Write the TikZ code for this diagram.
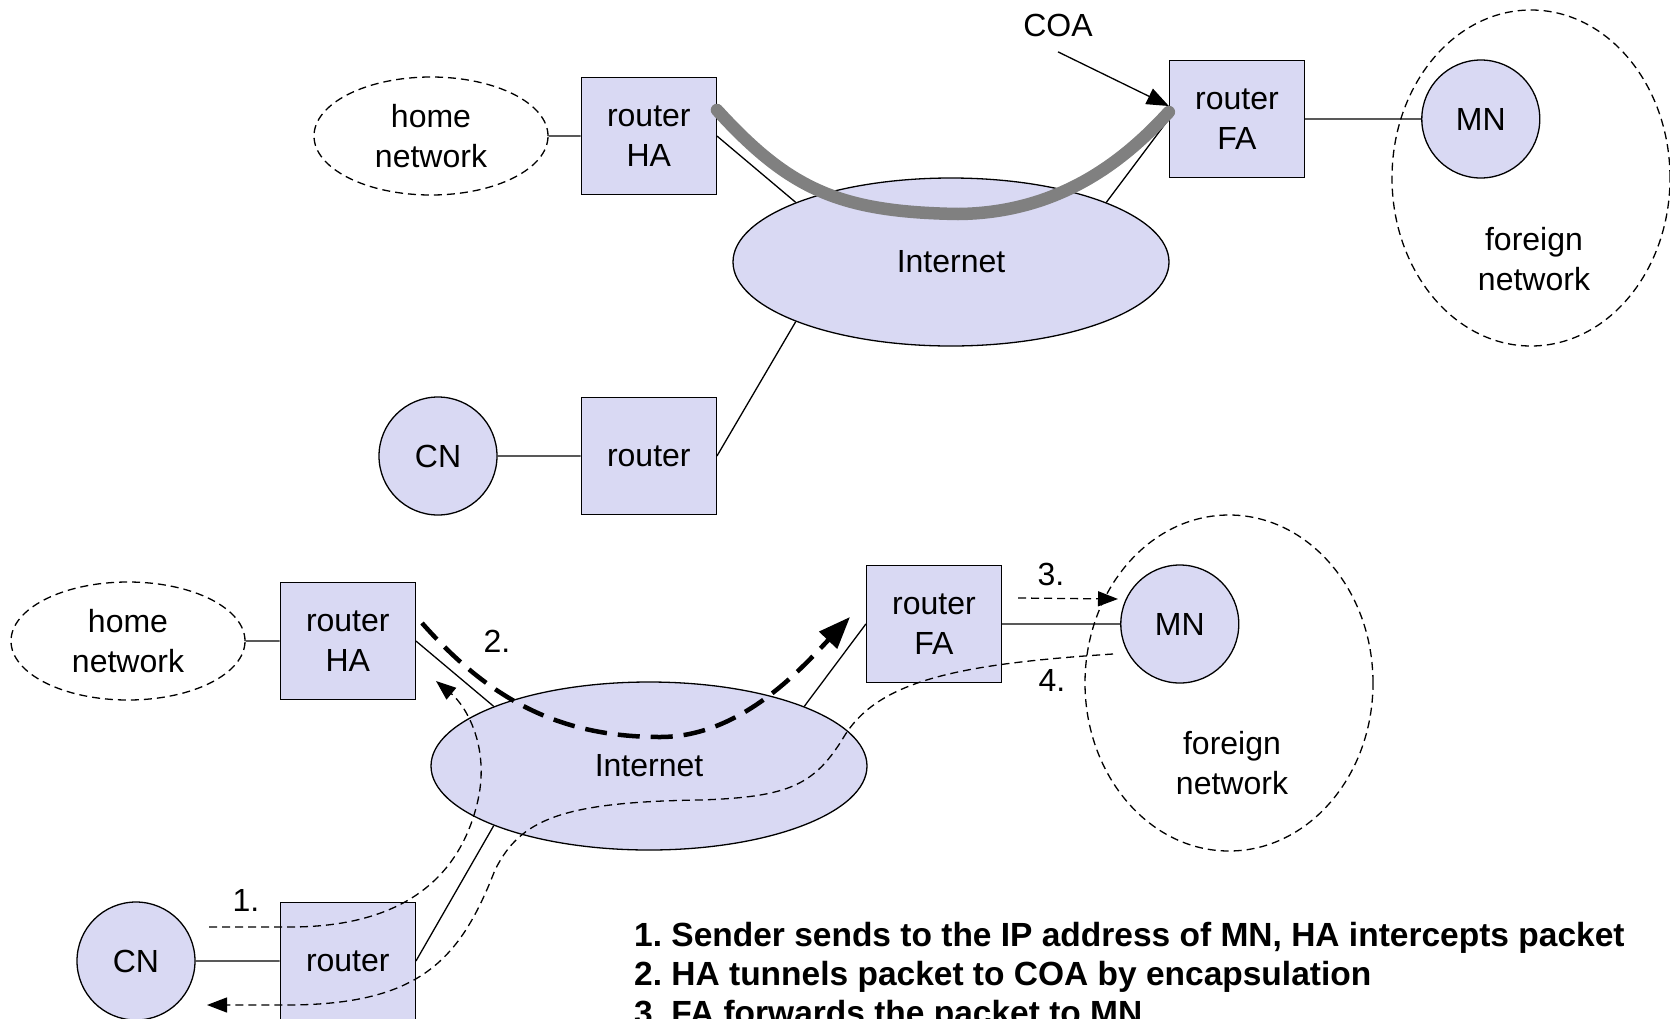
\documentclass[tikz,border=0pt]{standalone}
\usepackage{fontspec}
\setmainfont{Liberation Sans}
\usepackage{tikz}
\usetikzlibrary{shapes.geometric}
\usetikzlibrary{arrows.meta}
\usetikzlibrary{positioning}
\definecolor{netfill}{RGB}{217,217,243}
\definecolor{tunnelgray}{RGB}{128,128,128}
\frenchspacing
\newcommand{\netfont}{\fontsize{32}{40}\selectfont}
\newcommand{\notefont}{\fontsize{33.5}{40}\selectfont\bfseries}
\tikzset{
    rbox/.style={
           rectangle,
           draw=black, line width=1.3pt,
           fill=netfill,
           minimum width=135pt, minimum height=117pt,
           align=center,
           },
    host/.style={
           circle,
           draw=black, line width=1.3pt,
           fill=netfill,
           minimum size=118pt, inner sep=0pt,
           },
    cloud/.style={
           ellipse,
           draw=black, line width=1.3pt,
           fill=netfill,
           minimum width=436pt, minimum height=168pt,
           },
    subnet/.style={
           ellipse,
           draw=black, line width=1.3pt,
           dash pattern=on 8pt off 5pt,
           minimum width=234pt, minimum height=118pt,
           align=center,
           },
    link/.style={draw=black, line width=1.3pt},
    flow/.style={line width=1.3pt, dash pattern=on 8pt off 5pt,
           -{Triangle[length=20pt,width=15pt]}},
    bigflow/.style={line width=4.5pt, dash pattern=on 22pt off 11pt,
           -{Triangle[length=32pt,width=24pt]}},
    tunnel/.style={draw=tunnelgray, line width=12.5pt, line cap=round},
    pointer/.style={line width=1.3pt, -{Triangle[length=22pt,width=17pt]}},
    note/.style={anchor=west, inner sep=0pt, font=\notefont},
}
\begin{document}
\begin{tikzpicture}[x=1pt,y=-1pt,font=\netfont]
      \useasboundingbox (0,0) rectangle (1670,1018);
      % upper half
      \node[subnet] (homeT) at (431,136) {home\\network};
      \node[rbox] (haT) [right=32pt of homeT] {router\\HA};
      \node[cloud] (inetT) at (951,262) {Internet};
      \node[rbox] (faT) at (1237,119) {router\\FA};
      \node[subnet, minimum width=278pt, minimum height=336pt] (fnT) at (1531,178) {};
      \node[host] (mnT) [right=116pt of faT] {MN};
      \node[align=center] (fnTtext) at (1534,259) {foreign\\network};
      \node[host] (cnT) at (438,456) {CN};
      \node[rbox] (rtT) [right=83pt of cnT] {router};
      \node (coa) at (1058,25) {COA};
      \path[link]
      (homeT) -- (haT)
      (haT.east) -- (inetT.159)
      (faT.west) -- (inetT.21)
      (faT) -- (mnT)
      (cnT) -- (rtT)
      (rtT.east) -- (inetT.201);
      \draw[tunnel] ([yshift=26pt]haT.east) .. controls (790,190) and (840,212) .. (958,214)
            .. controls (1060,213) and (1125,160) .. ([yshift=7pt]faT.west);
      \draw[pointer] ([yshift=-12pt]coa.south) -- ([yshift=13pt]faT.west);

      % lower half
      \node[subnet] (homeB) at (128,641) {home\\network};
      \node[rbox] (haB) [right=34pt of homeB] {router\\HA};
      \node[cloud] (inetB) at (649,766) {Internet};
      \node[rbox] (faB) at (934,624) {router\\FA};
      \node[subnet, minimum width=288pt, minimum height=336pt] (fnB) at (1229,683) {};
      \node[host] (mnB) [right=118pt of faB] {MN};
      \node[align=center] (fnBtext) at (1232,763) {foreign\\network};
      \node[host] (cnB) at (136,961) {CN};
      \node[rbox] (rtB) [right=84pt of cnB] {router};
      \path[link]
      (homeB) -- (haB)
      (haB.east) -- (inetB.159)
      (faB.west) -- (inetB.21)
      (faB) -- (mnB)
      (cnB) -- (rtB)
      (rtB.east) -- (inetB.201);

      \coordinate (sendFrom) at (209,927);
      \coordinate (sendTo) at (436,681);
      \coordinate (tunFrom) at (422,623);
      \coordinate (tunTo) at (850,617);
      \coordinate (fwdFrom) at (1018,598);
      \coordinate (fwdTo) at (1118,599);
      \coordinate (replyFrom) at (1113,654);
      \coordinate (replyTo) at (207,1005);
      \draw[flow] (sendFrom) -- (290,927) .. controls (400,927) and (460,880) .. (478,800)
            .. controls (490,745) and (465,705) .. (sendTo);
      \draw[bigflow] (tunFrom) .. controls (490,700) and (560,737) .. (660,737)
            .. controls (740,737) and (800,670) .. (tunTo);
      \draw[flow] (fwdFrom) -- (fwdTo);
      \draw[flow] (replyFrom) .. controls (960,664) and (880,680) .. (845,735)
            .. controls (815,785) and (790,797) .. (700,800)
            .. controls (560,802) and (520,820) .. (495,870)
            .. controls (460,960) and (420,1004) .. (290,1005) -- (replyTo);
      \node (lbl1) at (246,900) {1.};
      \node (lbl2) at (497,641) {2.};
      \node (lbl3) at (1051,574) {3.};
      \node (lbl4) at (1052,680) {4.};

      \node[note] (note1) at (634,938) {1. Sender sends to the IP address of MN, HA intercepts packet};
      \node[note] (note2) at (634,977) {2. HA tunnels packet to COA by encapsulation};
      \node[note] (note3) at (634,1016) {3. FA forwards the packet to MN};
\end{tikzpicture}
\end{document}
